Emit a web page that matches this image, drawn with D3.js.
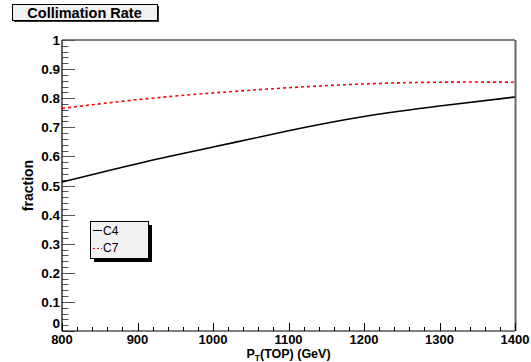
<!DOCTYPE html>
<html><head><meta charset="utf-8">
<script src="https://cdn.jsdelivr.net/npm/d3@7"></script>
<style>body{margin:0;background:#fff}svg{display:block}text{font-family:"Liberation Sans",Arial,sans-serif;font-weight:bold}</style>
</head><body><svg id="c" width="531" height="362"></svg>
<script>
const pt = [800, 900, 1000, 1100, 1200, 1300, 1400];
const c4 = [0.512, 0.575, 0.632, 0.688, 0.737, 0.773, 0.804];
const c7 = [0.765, 0.795, 0.818, 0.836, 0.849, 0.855, 0.855];
const xTicks = [800, 900, 1000, 1100, 1200, 1300, 1400];
const yTicks = [0, 0.1, 0.2, 0.3, 0.4, 0.5, 0.6, 0.7, 0.8, 0.9, 1];
const yTickLabels = ["0", "0.1", "0.2", "0.3", "0.4", "0.5", "0.6", "0.7", "0.8", "0.9", "1"];

const svg = d3.select("#c");
const L = 62, R = 515, T = 40, B = 331;
const x = d3.scaleLinear().domain([800, 1400]).range([L, R]);
const y = d3.scaleLinear().domain([0, 1]).range([B, T]);

// frame
svg.append("line").attr("x1", L).attr("x2", R).attr("y1", T).attr("y2", T).attr("stroke", "#000").attr("stroke-width", 1.2);
svg.append("line").attr("x1", R + 0.5).attr("x2", R + 0.5).attr("y1", T).attr("y2", B).attr("stroke", "#666").attr("stroke-width", 2);

// ticks
const xMinor = d3.range(800, 1400.1, 20);
svg.append("g").selectAll("line").data(xMinor).join("line")
  .attr("x1", d => Math.round(x(d)) + 0.5).attr("x2", d => Math.round(x(d)) + 0.5).attr("y1", B).attr("y2", d => (d % 100 === 0) ? B - 8 : B - 4)
  .attr("stroke", "#000").attr("stroke-width", 1);
const yMinor = d3.range(0, 1.0001, 0.02);
svg.append("g").selectAll("line").data(yMinor).join("line")
  .attr("x1", L).attr("x2", d => (Math.abs(Math.round(d * 10) - d * 10) < 1e-6) ? L + 13 : L + 6.5)
  .attr("y1", d => Math.round(y(d)) + 0.5).attr("y2", d => Math.round(y(d)) + 0.5)
  .attr("stroke", "#555").attr("stroke-width", 1);

// axes lines
svg.append("line").attr("x1", L).attr("x2", L).attr("y1", T).attr("y2", B).attr("stroke", "#000").attr("stroke-width", 1.2);
svg.append("line").attr("x1", L).attr("x2", R).attr("y1", B).attr("y2", B).attr("stroke", "#000").attr("stroke-width", 1.2);

// tick labels
svg.append("g").selectAll("text").data(xTicks).join("text")
  .attr("x", d => x(d)).attr("y", 343.5).attr("text-anchor", "middle").attr("font-size", 13).text(d => d);
svg.append("g").selectAll("text").data(yTicks).join("text")
  .attr("x", 60).attr("y", (d, i) => i === 0 ? y(d) - 3 : y(d) + 5).attr("text-anchor", "end").attr("font-size", 13.5)
  .text((d, i) => yTickLabels[i]);

// axis titles
const xt = svg.append("text").attr("x", (L + R) / 2).attr("y", 358).attr("text-anchor", "middle").attr("font-size", 12.5);
xt.append("tspan").text("P");
xt.append("tspan").attr("font-size", 8.5).attr("dy", 2.5).text("T");
xt.append("tspan").attr("dy", -2.5).text("(TOP) (GeV)");
svg.append("text").attr("transform", `translate(33,${(T + B) / 2}) rotate(-90)`).attr("text-anchor", "middle").attr("font-size", 14).text("fraction");

// curves
const line = d3.line().x(d => x(d[0])).y(d => y(d[1])).curve(d3.curveNatural);
svg.append("path").attr("d", line(pt.map((p, i) => [p, c4[i]]))).attr("fill", "none").attr("stroke", "#000").attr("stroke-width", 1.6);
svg.append("path").attr("d", line(pt.map((p, i) => [p, c7[i]]))).attr("fill", "none").attr("stroke", "#f00").attr("stroke-width", 1.6).attr("stroke-dasharray", "3,3");

// legend
const lg = { x: 90, y: 221, w: 58, h: 37 };
svg.append("rect").attr("x", lg.x + 4).attr("y", lg.y + 4).attr("width", lg.w).attr("height", lg.h).attr("fill", "#000");
svg.append("rect").attr("x", lg.x + 0.5).attr("y", lg.y + 0.5).attr("width", lg.w).attr("height", lg.h).attr("fill", "#f2f2f2").attr("stroke", "#000").attr("stroke-width", 1);
svg.append("line").attr("x1", lg.x + 3).attr("x2", lg.x + 12).attr("y1", lg.y + 9.5).attr("y2", lg.y + 9.5).attr("stroke", "#000").attr("stroke-width", 1);
svg.append("line").attr("x1", lg.x + 3).attr("x2", lg.x + 12).attr("y1", lg.y + 27.5).attr("y2", lg.y + 27.5).attr("stroke", "#f00").attr("stroke-width", 1).attr("stroke-dasharray", "2,2");
svg.append("text").attr("x", lg.x + 13).attr("y", lg.y + 13.5).attr("font-size", 12).style("font-weight", "normal").text("C4");
svg.append("text").attr("x", lg.x + 13).attr("y", lg.y + 31).attr("font-size", 12).style("font-weight", "normal").text("C7");

// title box
const tb = { x: 12, y: 4, w: 145, h: 16 };
svg.append("rect").attr("x", tb.x + 2).attr("y", tb.y + 2).attr("width", tb.w).attr("height", tb.h).attr("fill", "#333");
svg.append("rect").attr("x", tb.x + 0.5).attr("y", tb.y + 0.5).attr("width", tb.w).attr("height", tb.h).attr("fill", "#f2f2f2").attr("stroke", "#000").attr("stroke-width", 1);
svg.append("text").attr("x", tb.x + tb.w / 2).attr("y", tb.y + 13.5).attr("text-anchor", "middle").attr("font-size", 14.5).text("Collimation Rate");
</script></body></html>
